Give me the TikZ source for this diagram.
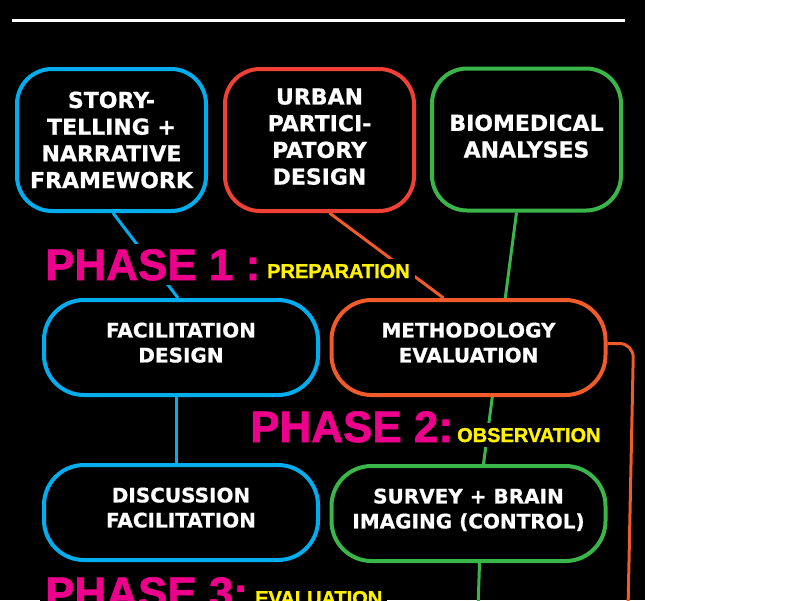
\documentclass[tikz,border=0pt]{standalone}
\usepackage{fontspec}
\setmainfont{DejaVu Sans}[BoldFeatures={FakeBold=0.8}]
\newfontfamily\phasefont{Liberation Sans}[BoldFeatures={FakeBold=1.5}]
\usetikzlibrary{backgrounds}
\definecolor{cblue}{RGB}{0,174,239}
\definecolor{cred}{RGB}{239,65,54}
\definecolor{cgreen}{RGB}{57,181,74}
\definecolor{corange}{RGB}{241,90,41}
\definecolor{cmag}{RGB}{236,0,140}
\definecolor{cyel}{RGB}{255,242,0}
\begin{document}
\begin{tikzpicture}[x=1pt,y=-1pt,
  box/.style={draw, line width=4pt, fill=black, text=white, align=center,
    font=\bfseries\fontsize{22}{26.7}\selectfont, rounded corners=35pt,
    minimum width=189pt, minimum height=142pt, inner sep=0pt},
  wbox/.style={box, font=\bfseries\fontsize{20}{25}\selectfont, rounded corners=40pt,
    minimum width=274pt, minimum height=95pt, text depth=10pt},
  link/.style={line width=3pt},
  phase/.style={fill=black, text=cmag, font=\phasefont\bfseries\fontsize{44}{44}\selectfont,
    anchor=base west, inner sep=5pt},
  sub/.style={fill=black, text=cyel, font=\phasefont\bfseries\fontsize{20}{20}\selectfont,
    anchor=base west, inner sep=5pt}]
\useasboundingbox (0,0) rectangle (800,600);

\node[box, draw=cblue] (story) at (111.5,140) {STORY-\\TELLING +\\NARRATIVE\\FRAMEWORK};
\node[box, draw=cred, text depth=7pt] (urban) at (319.5,140) {URBAN\\PARTICI-\\PATORY\\DESIGN};
\node[box, draw=cgreen, text depth=7pt] (bio) at (526.5,139.5) {BIOMEDICAL\\ANALYSES};

\node[wbox, draw=cblue] (facil) at (181,347.5) {FACILITATION\\DESIGN};
\node[wbox, draw=corange] (meth) at (468.5,347.5) {METHODOLOGY\\EVALUATION};
\node[wbox, draw=cblue] (disc) at (181,512.5) {DISCUSSION\\FACILITATION};
\node[wbox, draw=cgreen] (survey) at (468.5,513.5) {SURVEY + BRAIN\\IMAGING (CONTROL)};

\node[phase] (p1) at (40,280) {PHASE 1 :};
\node[sub] (s1) at (262,278) {PREPARATION};
\node[phase] (p2) at (245,442) {PHASE 2:};
\node[sub] (s2) at (452,442) {OBSERVATION};
\node[phase] (p3) at (40,608) {PHASE 3:};
\node[sub] (s3) at (250,605) {EVALUATION};

\coordinate (gEnd) at (478,610);
\coordinate (oEnd) at (628,610);

\begin{scope}[on background layer]
  \fill[white] (0,0) rectangle (800,600);
  \fill[black] (0,0) rectangle (645,600);
  \draw[white, line width=3pt] (12,20) -- (625,20);
  \draw[link, cblue] ([xshift=1.5pt]story.south) -- ([xshift=-3pt]facil.north);
  \draw[link, cblue] ([xshift=-5pt]facil.south) -- ([xshift=-5pt]disc.north);
  \draw[link, corange] ([xshift=10pt]urban.south) -- ([xshift=-25pt]meth.north);
  \draw[link, cgreen] ([xshift=-10pt]bio.south) -- ([xshift=15pt]survey.north);
  \draw[link, cgreen] ([xshift=11pt]survey.south) -- (gEnd);
  \draw[link, corange, rounded corners=14pt] ([yshift=4pt]meth.east) -- ++(26,0) -- (oEnd);
\end{scope}
\end{tikzpicture}
\end{document}
